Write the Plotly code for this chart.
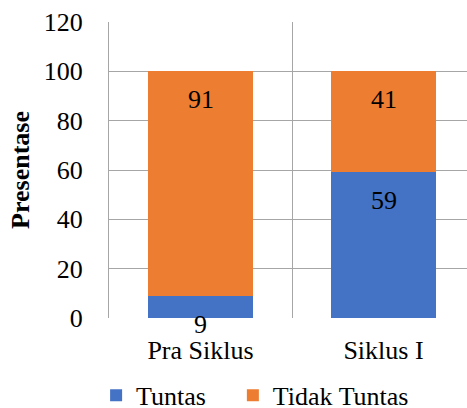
import plotly.graph_objects as go

categories = ["Pra Siklus", "Siklus I"]
tuntas = [9, 59]
tidak_tuntas = [91, 41]
y_ticks = [0, 20, 40, 60, 80, 100, 120]

FONT = "Liberation Serif, Tinos, Times New Roman, serif"
GRID = "#A6A6A6"
BLUE = "#4472C4"
ORANGE = "#ED7D31"

xs = list(range(len(categories)))
bar_w = 0.574

fig = go.Figure()
fig.add_trace(go.Bar(name="Tuntas", x=xs, y=tuntas, marker_color=BLUE,
                     width=bar_w, marker_line_width=0, legend="legend"))
fig.add_trace(go.Bar(name="Tidak Tuntas", x=xs, y=tidak_tuntas, marker_color=ORANGE,
                     width=bar_w, marker_line_width=0, legend="legend2"))

for i in xs:
    base = 0
    for vals in (tuntas, tidak_tuntas):
        top = base + vals[i]
        fig.add_annotation(x=i, y=top, text=str(vals[i]), showarrow=False,
                           yanchor="top", yshift=-12,
                           font=dict(family=FONT, size=26, color="black"))
        base = top

boundaries = [i - 0.5 for i in range(len(categories) + 1)]

legend_style = dict(orientation="h", xanchor="left", y=-0.182, yanchor="top",
                    font=dict(family=FONT, size=26, color="black"),
                    bgcolor="rgba(0,0,0,0)")

fig.update_layout(
    barmode="stack",
    width=467, height=408,
    margin=dict(l=109, r=0, t=22, b=90, autoexpand=False),
    paper_bgcolor="white", plot_bgcolor="white",
    font=dict(family=FONT, size=26, color="black"),
    showlegend=True,
    legend=dict(x=-0.036, **legend_style),
    legend2=dict(x=0.346, **legend_style),
    xaxis=dict(
        range=[-0.5, -0.5 + 358 / 183],
        tickmode="array", tickvals=xs, ticktext=categories,
        showgrid=False, zeroline=False, showline=False,
        ticks="", ticklabelstandoff=14,
        minor=dict(tickmode="array", tickvals=boundaries, showgrid=True,
                   gridcolor=GRID, gridwidth=1, ticks=""),
        tickfont=dict(family=FONT, size=26, color="black"),
    ),
    yaxis=dict(
        range=[0, 120], tickmode="array", tickvals=y_ticks,
        showgrid=True, gridcolor=GRID, gridwidth=1,
        zeroline=False, showline=True, linecolor=GRID, linewidth=1,
        ticks="", ticklabelstandoff=20,
        tickfont=dict(family=FONT, size=26, color="black"),
        title=dict(text="<b>Presentase</b>", font=dict(family=FONT, size=26, color="black"),
                   standoff=6),
    ),
)

fig.write_html("out.html")
